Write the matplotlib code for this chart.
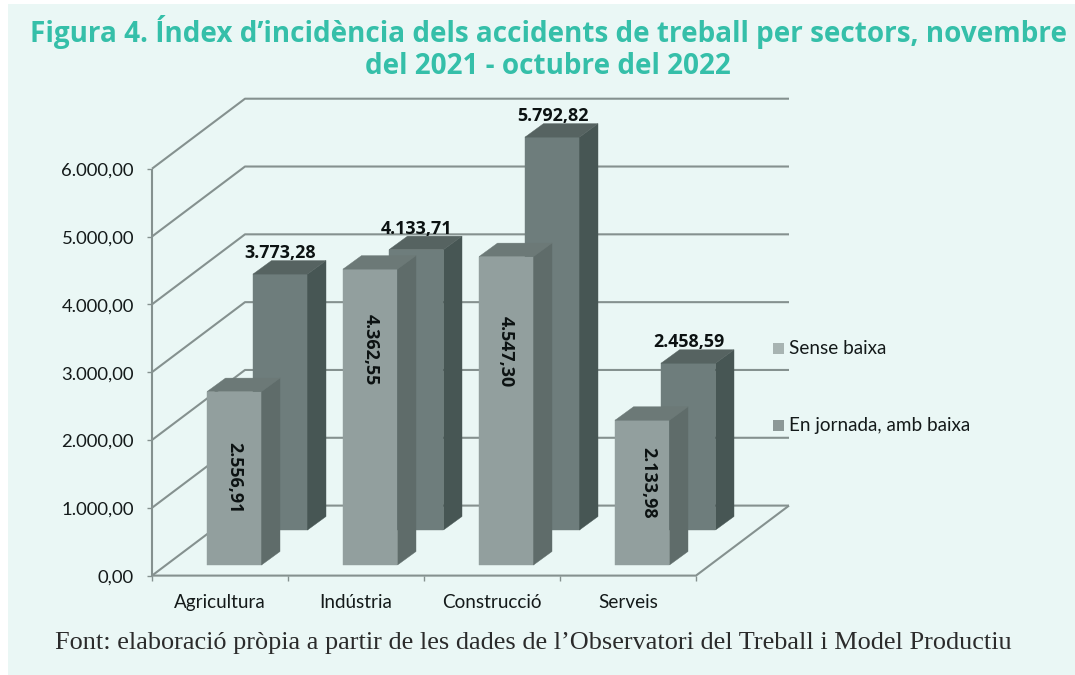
import matplotlib
matplotlib.use("Agg")
import matplotlib.pyplot as plt
from matplotlib.patches import Polygon, Rectangle

categories = ["Agricultura", "Indústria", "Construcció", "Serveis"]
sense_baixa = [2556.91, 4362.55, 4547.30, 2133.98]
amb_baixa = [3773.28, 4133.71, 5792.82, 2458.59]
sense_labels = ["2.556,91", "4.362,55", "4.547,30", "2.133,98"]
amb_labels = ["3.773,28", "4.133,71", "5.792,82", "2.458,59"]
y_ticks = [0, 1000, 2000, 3000, 4000, 5000, 6000]
y_tick_labels = ["0,00", "1.000,00", "2.000,00", "3.000,00", "4.000,00", "5.000,00", "6.000,00"]
series_names = ["Sense baixa", "En jornada, amb baixa"]

W, H = 1075, 675
GRID = "#85918f"
DARK = "#141a1a"

fig = plt.figure(figsize=(W / 100, H / 100), dpi=100, facecolor="white")
fig.patches.append(Rectangle((8 / W, 0), (W - 8) / W, (H - 4) / H, transform=fig.transFigure,
                             facecolor="#eaf7f5", edgecolor="none", zorder=-1))

# axes covers the front plane of the fake 3d box, pixel box
left, right, top, bottom = 152, 696, 168.7, 575.6
ax = fig.add_axes([left / W, 1 - bottom / H, (right - left) / W, (bottom - top) / H])
ax.set_xlim(0, 4)
ax.set_ylim(0, 6000)
ax.axis("off")

px_x = 4 / (right - left)
px_y = 6000 / (bottom - top)

# depth of the box
depth_x = 93 * px_x
depth_y = 70 * px_y


def line(xs, ys, lw=1.5):
    ax.plot(xs, ys, color=GRID, lw=lw, clip_on=False, solid_capstyle="butt", zorder=1)


for t in y_ticks:
    line([0, depth_x, 4 + depth_x], [t, t + depth_y, t + depth_y])
    line([-5 * px_x, 0], [t, t], lw=1.0)
line([0, 0], [0, 6000])
line([0, 4, 4 + depth_x], [0, 0, depth_y])
for i in range(5):
    line([i, i], [0, -5 * px_y], lw=1.0)


def bar3d(x0, base, value, colors, z):
    """Front, side and top faces of one box"""
    w = 54.5 * px_x
    dx = 18.5 * px_x
    dy = 13.5 * px_y
    front, side, top_c = colors
    faces = [
        ([(x0, base), (x0 + w, base), (x0 + w, base + value), (x0, base + value)], front),
        ([(x0 + w, base), (x0 + w + dx, base + dy), (x0 + w + dx, base + value + dy), (x0 + w, base + value)], side),
        ([(x0, base + value), (x0 + w, base + value), (x0 + w + dx, base + value + dy), (x0 + dx, base + value + dy)], top_c),
    ]
    for pts, c in faces:
        ax.add_patch(Polygon(pts, closed=True, facecolor=c, edgecolor=c, lw=0.3, clip_on=False, zorder=z))


front_colors = ("#929f9e", "#5f6c6a", "#6c7977")
back_colors = ("#6e7d7c", "#475654", "#566361")

front_base = (bottom - 565) * px_y
back_base = (bottom - 530) * px_y
front_off = (207 - left) * px_x
back_off = (253 - left) * px_x

# label centres measured in pixels from the top of the image
front_label_y = [478, 350, 352, 483]
front_label_dx = [27, 28, 27, 33]

for i in range(4):
    bar3d(i + back_off, back_base, amb_baixa[i], back_colors, 2 + i * 2)
    bar3d(i + front_off, front_base, sense_baixa[i], front_colors, 3 + i * 2)
    ax.text(i + back_off + 27.5 * px_x, back_base + amb_baixa[i] + 21 * px_y, amb_labels[i],
            ha="center", va="center", fontsize=12.9, fontweight="bold", color="#0c1212",
            family="Open Sans", zorder=20, clip_on=False)
    ax.text(i + front_off + front_label_dx[i] * px_x, (bottom - front_label_y[i]) * px_y, sense_labels[i],
            ha="center", va="center", rotation=270, fontsize=12.9, fontweight="bold", color="#0c1212",
            family="Open Sans", zorder=20)
    ax.text(i + 0.5, -27 * px_y, categories[i], ha="center", va="center", fontsize=13.6,
            color=DARK, family="Lato", clip_on=False)

for t, lab in zip(y_ticks, y_tick_labels):
    ax.text(-18 * px_x, t - 2 * px_y, lab, ha="right", va="center", fontsize=13.3, color=DARK, family="Lato", clip_on=False)

# legend drawn by hand, it sits next to the wall in the original
for name, c, yy in zip(series_names, ["#a8b4b2", "#8c9897"], [348, 425]):
    fig.patches.append(Rectangle((773 / W, 1 - (yy + 5.5) / H), 11 / W, 11 / H, transform=fig.transFigure,
                                 facecolor=c, edgecolor="none"))
    fig.text(789 / W, 1 - yy / H, name, ha="left", va="center", fontsize=13.6, color=DARK, family="Lato")

fig.text(548.5 / W, 1 - 32 / H, "Figura 4. Índex d’incidència dels accidents de treball per sectors, novembre",
         ha="center", va="center", fontsize=20.05, fontweight="bold", color="#35bfa9", family="Open Sans")
fig.text(548 / W, 1 - 66 / H, "del 2021 - octubre del 2022",
         ha="center", va="center", fontsize=20.05, fontweight="bold", color="#35bfa9", family="Open Sans")
fig.text(533 / W, 1 - 643 / H, "Font: elaboració pròpia a partir de les dades de l’Observatori del Treball i Model Productiu",
         ha="center", va="center", fontsize=18.9, color="#2b2b2b", family="Liberation Serif")

fig.savefig("out.png", dpi=100)
